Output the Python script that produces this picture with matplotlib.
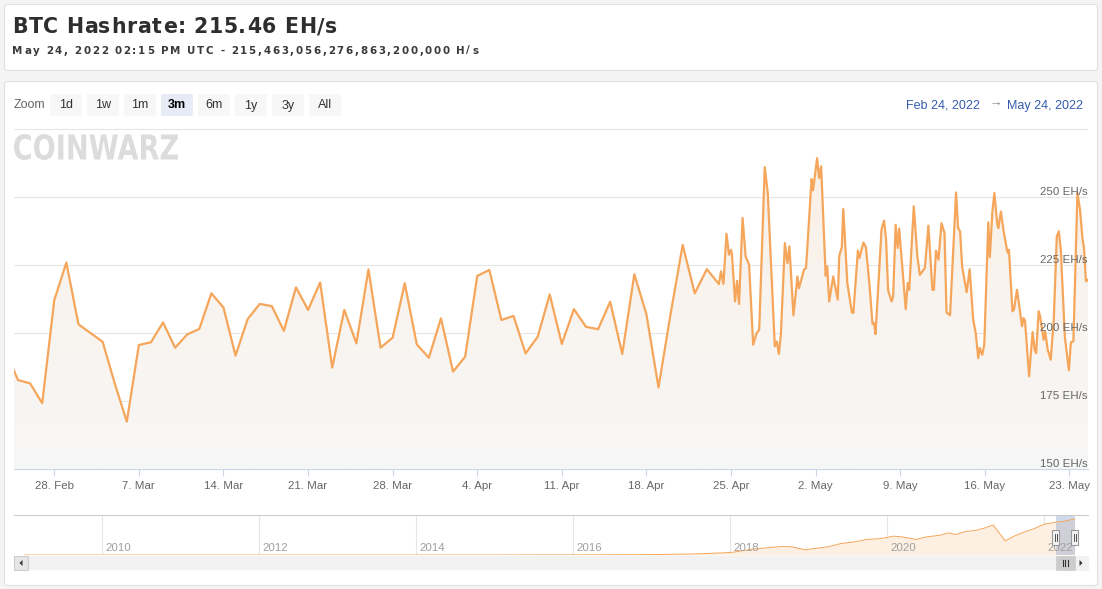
import matplotlib
matplotlib.use("Agg")
import matplotlib.pyplot as plt
import matplotlib.dates as mdates
import matplotlib.ticker as mticker
import matplotlib.transforms as mtrans
import numpy as np
import pandas as pd
from matplotlib.patches import FancyBboxPatch, Rectangle, PathPatch, Polygon
from matplotlib.textpath import TextPath
from matplotlib.font_manager import FontProperties

W, H = 1102, 589

# ---- data (EH/s) ----
daily_start = "2022-02-24"
daily_vals = [193.0, 182.7, 181.5, 174.2, 212.1, 225.9, 203.2, 200.0, 196.8, 181.5,
              167.4, 195.6, 196.6, 203.9, 194.6, 199.5, 201.5, 214.6, 209.4, 191.7,
              205.1, 210.7, 209.9, 200.8, 216.8, 208.5, 218.6, 187.3, 208.5, 196.2,
              223.4, 194.6, 198.3, 218.3, 195.8, 190.9, 205.4, 185.8, 191.3, 221.0,
              223.2, 204.8, 206.3, 192.5, 198.6, 214.2, 196.0, 208.8, 202.3, 201.4,
              211.5, 192.3, 221.6, 206.9, 180.0, 207.0, 232.4, 214.6, 223.5, 218.0]

# from Apr 24 on the samples come several times a day: hours after 2022-04-24 00:00
dense_start = "2022-04-24"
dense_hours = [4, 9, 15, 20, 24, 26, 32, 36, 40, 47,
               53, 60, 68, 75, 80, 91, 97, 111, 115, 119,
               123, 131, 136, 140, 148, 156, 159, 169, 173, 184,
               187, 195, 199, 203, 212, 215, 219, 227, 236, 239,
               244, 247, 255, 264, 267, 276, 279, 287, 292, 299,
               305, 308, 311, 323, 328, 332, 336, 343, 346, 351,
               355, 358, 371, 375, 378, 387, 394, 399, 409, 416,
               424, 427, 431, 436, 442, 448, 452, 459, 471, 475,
               479, 483, 492, 498, 505, 510, 515, 518, 523, 527,
               535, 538, 543, 547, 553, 555, 560, 565, 572, 574,
               576, 583, 586, 592, 598, 602, 605, 608, 616, 623,
               627, 630, 635, 638, 645, 648, 653, 659, 665, 671,
               675, 679, 687, 695, 699, 704, 712, 717, 722, 725,
               729, 733]
dense_vals = [222.7, 218.1, 236.5, 228.8, 230.6, 228.8, 211.6, 219.2, 210.7, 242.3,
              228.2, 225.1, 195.7, 200.0, 201.2, 261.0, 251.5, 195.1, 196.9, 192.3,
              199.4, 233.1, 225.7, 231.9, 206.5, 220.8, 216.5, 223.3, 223.9, 256.6,
              252.5, 264.3, 257.0, 261.3, 221.1, 224.5, 211.6, 220.8, 212.3, 228.4,
              231.5, 245.6, 218.4, 207.6, 207.4, 230.3, 227.6, 233.3, 231.5, 217.8,
              203.4, 203.7, 199.6, 238.2, 241.3, 234.3, 215.7, 211.6, 213.5, 239.8,
              231.3, 238.4, 208.8, 218.4, 215.9, 246.6, 228.4, 221.4, 223.9, 239.5,
              215.9, 215.9, 230.3, 227.0, 240.4, 236.8, 207.6, 206.5, 251.7, 238.6,
              237.4, 224.5, 215.0, 223.5, 204.9, 200.0, 190.8, 194.5, 192.0, 195.7,
              240.7, 227.9, 244.4, 251.5, 239.8, 238.6, 244.7, 238.0, 230.6, 229.4,
              230.6, 208.0, 208.6, 215.9, 208.0, 202.5, 205.5, 204.3, 184.1, 200.4,
              193.9, 192.6, 208.0, 206.1, 197.5, 200.6, 193.9, 190.2, 204.9, 235.5,
              237.4, 230.6, 198.7, 186.3, 196.6, 196.9, 251.5, 245.6, 234.9, 231.3,
              219.0, 219.6]

# navigator: whole history
nav_dates = ["2009-01-03", "2011-01-01", "2013-01-01", "2014-01-01", "2015-01-01",
             "2016-01-01", "2017-01-01", "2017-07-01", "2017-12-01", "2018-01-15",
             "2018-03-01", "2018-05-01", "2018-07-01", "2018-09-01", "2018-10-15",
             "2018-12-15", "2019-02-01", "2019-04-01", "2019-06-01", "2019-08-01",
             "2019-10-01", "2019-12-01", "2020-02-01", "2020-03-15", "2020-05-15",
             "2020-07-01", "2020-09-01", "2020-10-15", "2020-11-15", "2021-01-01",
             "2021-02-15", "2021-04-01", "2021-05-10", "2021-06-15", "2021-07-05",
             "2021-08-15", "2021-10-01", "2021-11-15", "2022-01-01", "2022-02-24",
             "2022-04-01", "2022-05-24"]
nav_vals = [0, 0, 0, 0.01, 0.3, 0.8, 2.5, 6, 13, 17,
            26, 38, 45, 52, 50, 32, 40, 50, 70, 80,
            95, 100, 115, 110, 95, 110, 120, 135, 125, 143,
            150, 165, 183, 120, 86, 115, 140, 160, 188, 200,
            205, 220]
nav_years = [2010, 2012, 2014, 2016, 2018, 2020, 2022]

title = "BTC Hashrate: 215.46 EH/s"
subtitle = "May 24, 2022 02:15 PM UTC - 215,463,056,276,863,200,000 H/s"
range_buttons = ["1d", "1w", "1m", "3m", "6m", "1y", "3y", "All"]
selected_button = "3m"
range_from = "Feb 24, 2022"
range_to = "May 24, 2022"
y_ticks = [150, 175, 200, 225, 250]
y_grid = [175, 200, 225, 250, 275]
view_start = pd.Timestamp("2022-02-24 16:00")
view_end = pd.Timestamp("2022-05-24 13:00")
nav_start = pd.Timestamp("2008-11-15")
nav_end = pd.Timestamp("2022-07-25")

LINE = "#f5a65a"
LABEL = "#666666"
AXF = "Liberation Sans"

t_daily = pd.date_range(daily_start, periods=len(daily_vals), freq="D")
t_dense = pd.Timestamp(dense_start) + pd.to_timedelta(dense_hours, unit="h")
tn = mdates.date2num(np.concatenate([t_daily.values, t_dense.values]))
vals = np.array(daily_vals + dense_vals)

fig = plt.figure(figsize=(W / 100, H / 100), dpi=100, facecolor="#f4f4f4")
bg = fig.add_axes([0, 0, 1, 1])
bg.set_xlim(0, W)
bg.set_ylim(H, 0)
bg.axis("off")


def px_axes(l, t, r, b):
    return fig.add_axes([l / W, 1 - b / H, (r - l) / W, (b - t) / H])


def tracked(x0, x1, y, s, **kw):
    # spread characters so the string spans x0..x1 (letter spacing)
    r = fig.canvas.get_renderer()
    arts, widths = [], []
    for ch in s:
        a = bg.text(0, y, ch, va="baseline", ha="left", **kw)
        w = a.get_window_extent(r).width
        if ch == " ":
            w = kw.get("fontsize", 10) * 100 / 72 * 0.3
        arts.append(a)
        widths.append(w)
    gap = (x1 - x0 - sum(widths)) / (len(s) - 1)
    x = x0
    for a, w in zip(arts, widths):
        a.set_x(x)
        x += w + gap


# cards
for (cy, ch) in [(4.5, 66), (81.5, 504)]:
    bg.add_patch(FancyBboxPatch((4.5, cy), 1093, ch, boxstyle="round,pad=0,rounding_size=3",
                                fc="white", ec="#e0e0e0", lw=0.8, zorder=0))

tracked(12, 337, 33.3, title, fontsize=14.8, fontweight="bold", color="#2e2e2e",
        family="DejaVu Sans")
tracked(12, 478, 53.5, subtitle, fontsize=7.4, fontweight="bold", color="#3a3a3a",
        family="DejaVu Sans")

# range selector
bg.text(14, 105.5, "Zoom", fontsize=9, color=LABEL, family=AXF, va="center", ha="left")
for i, b in enumerate(range_buttons):
    bx = 50 + 37 * i
    sel = b == selected_button
    bg.add_patch(FancyBboxPatch((bx, 94), 32, 22, boxstyle="round,pad=0,rounding_size=2",
                                fc="#e6ebf5" if sel else "#f7f7f7", ec="none", zorder=1))
    bg.text(bx + 16, 105.5, b, fontsize=9, color="#000000" if sel else "#333333",
            fontweight="bold" if sel else "normal", family=AXF,
            ha="center", va="center", zorder=2)
bg.text(980, 105.5, range_from, fontsize=9, color="#335cad", family=AXF, ha="right", va="center")
bg.text(995.5, 104, "\u2192", fontsize=9, color="#8a8a8a", family=[AXF, "DejaVu Sans"],
        ha="center", va="center")
bg.text(1083, 105.5, range_to, fontsize=9, color="#335cad", family=AXF, ha="right", va="center")

# watermark logo
tp = TextPath((0, 0), "COINWARZ", prop=FontProperties(family="DejaVu Sans", weight="bold"))
ex = tp.get_extents()
logo_tf = (mtrans.Affine2D().translate(-ex.x0, -ex.y0)
           .scale(164 / ex.width, -26 / ex.height).translate(14, 160))
bg.add_patch(PathPatch(logo_tf.transform_path(tp), fc="#dcdcdc", ec="none", zorder=1))

# ---- main chart ----
ax = px_axes(14, 128, 1088, 469)
ax.set_facecolor("none")
for s in ["top", "left", "right"]:
    ax.spines[s].set_visible(False)
ax.spines["bottom"].set_color("#ccd6eb")
ax.spines["bottom"].set_linewidth(0.8)
xl = (mdates.date2num(view_start), mdates.date2num(view_end))
yl = (150, 275.4)

for g in y_grid:
    ax.axhline(g, color="#e6e6e6", lw=0.8, zorder=0.5)

fill = ax.fill_between(tn, vals, 150, facecolor="none", edgecolor="none")
top_c = np.array([250, 240, 229, 255]) / 255
bot_c = np.array([247, 247, 247, 255]) / 255
f = np.linspace(0, 1, 256)[:, None, None]
grad = top_c * (1 - f) + bot_c * f
im = ax.imshow(grad, extent=[xl[0], xl[1], yl[0], yl[1]], aspect="auto",
               origin="upper", zorder=1)
im.set_clip_path(fill.get_paths()[0], transform=ax.transData)

ax.plot(tn, vals, color=LINE, lw=1.6, zorder=3, solid_joinstyle="round")
ax.set_xlim(*xl)
ax.set_ylim(*yl)

for g in y_ticks:
    ax.text(1.0, g, f"{g} EH/s", transform=ax.get_yaxis_transform(), ha="right",
            va="bottom", fontsize=8.25, color=LABEL, family=AXF, zorder=4)

ax.xaxis.set_major_locator(mdates.WeekdayLocator(byweekday=mdates.MO))
ax.xaxis.set_major_formatter(mticker.FuncFormatter(
    lambda x, _: f"{mdates.num2date(x).day}. {mdates.num2date(x):%b}"))
ax.tick_params(axis="x", length=5.3, width=0.8, color="#ccd6eb", pad=3.5,
               labelsize=8.25, labelcolor=LABEL)
for lab in ax.get_xticklabels():
    lab.set_family(AXF)
ax.tick_params(axis="y", left=False, labelleft=False)

# ---- navigator ----
nav = px_axes(14, 515, 1088, 555)
nav.set_facecolor("none")
for s in ["bottom", "left", "right"]:
    nav.spines[s].set_visible(False)
nav.spines["top"].set_color("#cccccc")
nav.spines["top"].set_linewidth(0.8)
nav_t = mdates.date2num(pd.to_datetime(nav_dates))
nav.fill_between(nav_t, nav_vals, 0, color="#fdf0e2", lw=0, zorder=1)
nav.plot(nav_t, nav_vals, color=LINE, lw=0.7, zorder=2)
nav.set_xlim(mdates.date2num(nav_start), mdates.date2num(nav_end))
nav.set_ylim(0, 244)
nav.set_xticks([])
nav.set_yticks([])
lab_tf = mtrans.offset_copy(nav.get_xaxis_transform(), fig=fig, x=3, y=0, units="dots")
for yr in nav_years:
    d = mdates.date2num(pd.Timestamp(f"{yr}-01-01"))
    nav.axvline(d, color="#e6e6e6", lw=0.8, zorder=0)
    nav.text(d, 0.18, str(yr), transform=lab_tf, fontsize=8.25, color="#a0a0a0",
             family=AXF, ha="left", va="center", zorder=3)

sel0, sel1 = mdates.date2num(view_start), mdates.date2num(view_end)
nav.axvspan(sel0, sel1, color=(102 / 255, 133 / 255, 194 / 255, 0.3), lw=0, zorder=1.5)
fig.canvas.draw()
h0 = nav.transData.transform((sel0, 0))[0]
h1 = nav.transData.transform((sel1, 0))[0]

# overlay for scrollbar and handles (drawn above the navigator)
top = fig.add_axes([0, 0, 1, 1])
top.set_xlim(0, W)
top.set_ylim(H, 0)
top.axis("off")
top.set_facecolor("none")

top.add_patch(Rectangle((14, 556), 1074, 14, fc="#f2f2f2", ec="none", zorder=2))
top.add_patch(Rectangle((14, 556), 14, 14, fc="#e6e6e6", ec="#cccccc", lw=0.8, zorder=3))
top.add_patch(Polygon([[19.5, 563], [22.5, 560], [22.5, 566]], fc="#333333", ec="none", zorder=4))
top.add_patch(Rectangle((1074, 556), 14, 14, fc="#f2f2f2", ec="#f2f2f2", lw=0.8, zorder=3))
top.add_patch(Polygon([[1082.5, 563], [1079.5, 560], [1079.5, 566]], fc="#333333", ec="none", zorder=4))
top.add_patch(Rectangle((h0, 556), h1 - h0, 14, fc="#cccccc", ec="#cccccc", lw=0.5, zorder=3))
mid = (h0 + h1) / 2
for dx in (-2.5, 0, 2.5):
    top.plot([mid + dx, mid + dx], [560, 566], color="#333333", lw=0.8, zorder=4)

for hx in (h0, h1):
    top.add_patch(Rectangle((hx - 3.5, 530), 7, 15, fc="#f2f2f2", ec="#999999", lw=0.8, zorder=5))
    for dx in (-1.2, 1.2):
        top.plot([hx + dx, hx + dx], [534, 541], color="#333333", lw=0.6, zorder=6)

fig.savefig("out.png", dpi=100, facecolor=fig.get_facecolor())
